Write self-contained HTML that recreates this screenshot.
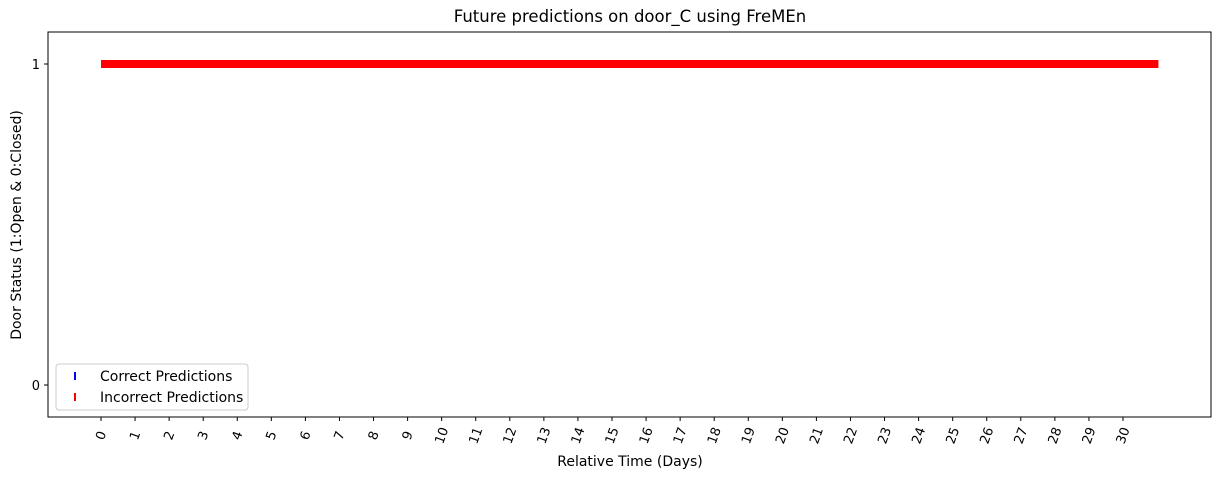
<!DOCTYPE html>
<html><head><meta charset="utf-8"><style>
body{margin:0;background:#fff;font-family:"Liberation Sans","DejaVu Sans",sans-serif;}
svg text{font-family:"DejaVu Sans","Liberation Sans",sans-serif;}
</style></head><body>
<svg id="chart" width="1224" height="478" xmlns="http://www.w3.org/2000/svg">
<rect width="1224" height="478" fill="#fff"/>
<text x="630" y="22" font-size="16.5" text-anchor="middle">Future predictions on door_C using FreMEn</text>
<g id="marks"></g>
<rect x="48" y="32" width="1163" height="385" fill="none" stroke="#000" stroke-width="1"/>
<g id="xticks"></g><g id="yticks"></g>
<text x="630" y="466" font-size="14" text-anchor="middle">Relative Time (Days)</text>
<text transform="translate(21,225) rotate(-90)" font-size="14" text-anchor="middle">Door Status (1:Open &amp; 0:Closed)</text>
<g>
<rect x="56" y="364" width="192" height="46" rx="3" fill="#fff" stroke="#ccc"/>
<rect x="74" y="372" width="2" height="8" fill="#0000ff"/>
<text x="100" y="381" font-size="14">Correct Predictions</text>
<rect x="74" y="393" width="2" height="8" fill="#ff0000"/>
<text x="100" y="402" font-size="14">Incorrect Predictions</text>
</g>
</svg>
<script>
const segStart=[0];
const segEnd=[31.04];
const segValue=[1];
const segCorrect=[false];
const xTickValues=[0,1,2,3,4,5,6,7,8,9,10,11,12,13,14,15,16,17,18,19,20,21,22,23,24,25,26,27,28,29,30];
const yTickValues=[0,1];
const ns="http://www.w3.org/2000/svg";
function xs(d){return 101+d*(1123-101)/30;}
function ys(v){return 385-v*(385-64);}
const marks=document.getElementById('marks');
for(let i=0;i<segStart.length;i++){
 const r=document.createElementNS(ns,'rect');
 r.setAttribute('x',xs(segStart[i]));r.setAttribute('y',ys(segValue[i])-4);
 r.setAttribute('width',xs(segEnd[i])-xs(segStart[i]));r.setAttribute('height',8);
 r.setAttribute('fill',segCorrect[i]?'#0000ff':'#ff0000');
 
 
 marks.appendChild(r);
}
const xg=document.getElementById('xticks');
xTickValues.forEach(v=>{
 const x=xs(v);
 const l=document.createElementNS(ns,'line');
 l.setAttribute('x1',x);l.setAttribute('x2',x);l.setAttribute('y1',417);l.setAttribute('y2',421);l.setAttribute('stroke','#000');
 
 
 xg.appendChild(l);
 const t=document.createElementNS(ns,'text');
 t.setAttribute('transform','translate('+(x+4)+',437) rotate(-70)');
 t.setAttribute('font-size','13');t.setAttribute('text-anchor','middle');
 t.textContent=v;
 
 
 xg.appendChild(t);
});
const yg=document.getElementById('yticks');
yTickValues.forEach(v=>{
 const y=ys(v);
 const l=document.createElementNS(ns,'line');
 l.setAttribute('x1',44);l.setAttribute('x2',48);l.setAttribute('y1',y);l.setAttribute('y2',y);l.setAttribute('stroke','#000');
 
 
 yg.appendChild(l);
 const t=document.createElementNS(ns,'text');
 t.setAttribute('x',40);t.setAttribute('y',y+5);t.setAttribute('font-size','13');t.setAttribute('text-anchor','end');
 t.textContent=v;
 
 
 yg.appendChild(t);
});
</script>
</body></html>
